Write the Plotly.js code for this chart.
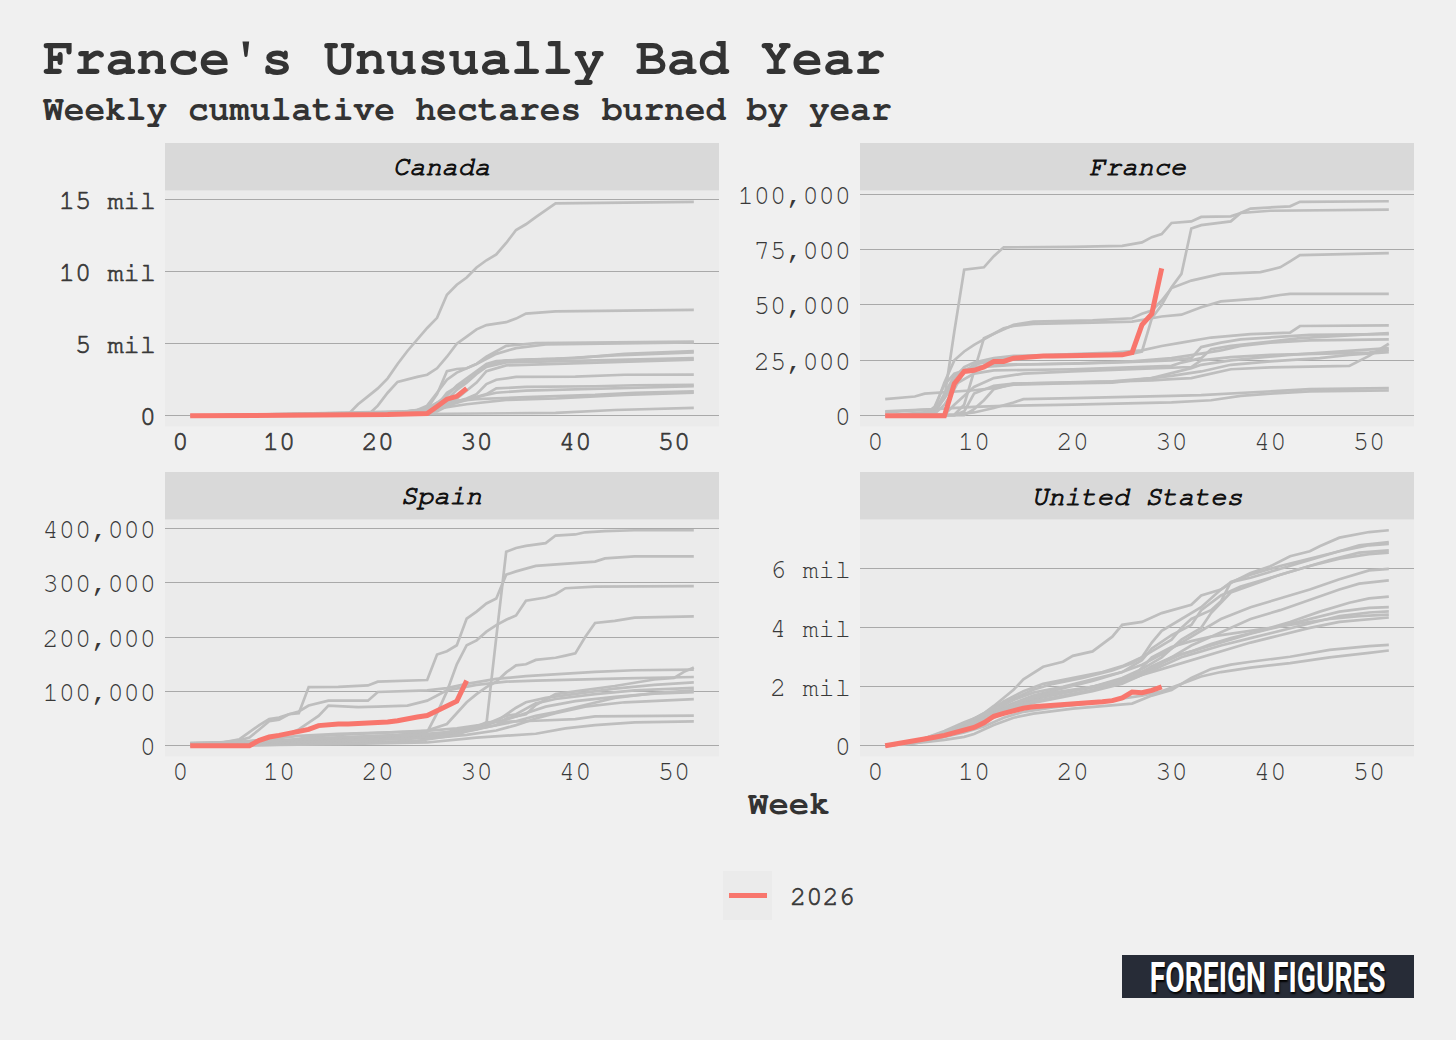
<!DOCTYPE html>
<html>
<head>
<meta charset="utf-8">
<script src="https://cdn.plot.ly/plotly-3.0.1.min.js"></script>
<style>
html, body { margin: 0; padding: 0; background: #f0f0f0; }
#chart { width: 1456px; height: 1040px; }
</style>
</head>
<body>
<div id="chart"></div>
<script>
// ---------- DATA ----------
const weekTicks = [0, 10, 20, 30, 40, 50];
const weeks2026 = [1,2,3,4,5,6,7,8,9,10,11,12,13,14,15,16,17,18,19,20,21,22,23,24,25,26,27,28,29];

// 2026 cumulative hectares (Canada & US in millions of hectares)
const canada2026 = [0,0,0.005,0.008,0.01,0.012,0.015,0.017,0.02,0.022,0.025,0.027,0.03,0.032,0.035,0.04,0.045,0.05,0.06,0.07,0.08,0.1,0.12,0.14,0.16,0.65,1.15,1.35,1.9];
const france2026 = [0,0,0,0,0,0,0,14500,20000,20500,22000,24500,24500,26000,26500,26800,27000,27000,27000,27000,27000,27000,27100,27200,27500,28500,41000,46000,66500];
const spain2026 = [0,0,0,0,0,0,0,10000,16000,19000,22000,26000,30000,37000,39500,40000,40000,40500,41000,42000,43500,46000,50000,53000,55500,64000,73000,82000,120000];
const us2026 = [0,0.05,0.1,0.15,0.22,0.29,0.35,0.43,0.52,0.62,0.78,1.0,1.1,1.2,1.27,1.32,1.34,1.36,1.38,1.43,1.45,1.47,1.49,1.53,1.62,1.82,1.8,1.88,2.0];

// Previous years: [week, cumulative value] vertices
const canadaPast = [
  [[1,0],[16,0.02],[17,0.1],[18,0.8],[19,1.35],[20,1.9],[21,2.6],[22,3.6],[23,4.5],[24,5.3],[25,6.1],[26,6.8],[27,8.4],[28,9.1],[29,9.6],[30,10.3],[31,10.8],[32,11.2],[33,12.0],[34,12.9],[35,13.3],[36,13.8],[37,14.3],[38,14.75],[45,14.8],[52,14.85]],
  [[1,0],[19,0.05],[20,0.7],[21,1.6],[22,2.35],[23,2.55],[24,2.7],[25,2.85],[26,3.3],[27,4.1],[28,5.0],[29,5.5],[30,6.0],[31,6.3],[32,6.4],[33,6.5],[34,6.75],[35,7.1],[38,7.25],[52,7.35]],
  [[1,0],[24,0.1],[25,0.5],[26,1.5],[27,3.1],[28,3.25],[29,3.3],[30,3.6],[31,4.1],[32,4.5],[33,4.85],[36,5.05],[52,5.15]],
  [[1,0],[22,0.2],[24,0.4],[25,0.7],[26,1.6],[27,2.5],[28,3.0],[30,3.6],[32,4.3],[34,4.7],[37,4.95],[52,5.1]],
  [[1,0],[22,0.1],[25,0.4],[27,1.4],[28,2.1],[29,2.6],[30,3.1],[31,3.6],[32,3.8],[35,3.9],[40,4.0],[45,4.3],[52,4.5]],
  [[1,0],[24,0.1],[26,0.7],[27,1.6],[28,2.0],[29,2.4],[30,3.0],[31,3.55],[33,3.85],[38,3.95],[44,4.2],[52,4.4]],
  [[1,0],[20,0.2],[25,0.4],[27,1.1],[28,1.8],[29,2.3],[30,2.9],[31,3.4],[33,3.7],[40,3.8],[45,3.9],[52,4.0]],
  [[1,0],[23,0.3],[26,0.6],[28,1.2],[30,2.3],[31,3.1],[33,3.5],[40,3.65],[52,3.9]],
  [[1,0],[25,0.2],[27,0.8],[29,1.2],[30,1.5],[31,2.2],[32,2.5],[34,2.7],[40,2.72],[45,2.85],[52,2.86]],
  [[1,0],[25,0.15],[27,0.7],[29,1.1],[31,1.5],[32,1.9],[35,2.0],[42,2.05],[46,2.12],[52,2.15]],
  [[1,0],[26,0.3],[28,1.0],[30,1.3],[32,1.6],[35,1.75],[45,1.95],[52,2.05]],
  [[1,0],[24,0.2],[26,0.9],[28,1.0],[30,1.15],[35,1.3],[42,1.45],[46,1.6],[52,1.7]],
  [[1,0],[20,0.1],[26,0.5],[29,0.8],[33,1.1],[38,1.2],[45,1.45],[52,1.6]],
  [[1,0],[25,0.1],[30,0.15],[38,0.2],[44,0.4],[52,0.55]]
];

const francePast = [
  [[1,0],[5,500],[6,1500],[7,8000],[8,38000],[9,65900],[11,67000],[12,72000],[13,76000],[20,76200],[25,76700],[27,78200],[28,80600],[29,82000],[30,87000],[32,87700],[33,89700],[36,90000],[37,91500],[40,92500],[52,93000]],
  [[1,0],[5,400],[6,2000],[7,8000],[8,17000],[9,22000],[10,24000],[12,26000],[14,27000],[20,27500],[26,28000],[27,29000],[28,44000],[29,50000],[30,58000],[31,64000],[32,84500],[33,86000],[36,87700],[37,91500],[38,93500],[42,94500],[43,96500],[52,96800]],
  [[1,0],[5,800],[6,3000],[7,15000],[8,25000],[9,29000],[10,32000],[12,37000],[14,41000],[16,42500],[22,43000],[26,44000],[27,46000],[28,47500],[29,52000],[30,57600],[32,61000],[34,63000],[35,64000],[39,64800],[41,67000],[42,69700],[43,72500],[52,73400]],
  [[1,0],[8,500],[9,5000],[10,20000],[11,35000],[12,37000],[13,39500],[14,40500],[16,41500],[22,42000],[26,42500],[28,44000],[29,44800],[31,45600],[33,49000],[35,51600],[39,53000],[41,54500],[42,55000],[52,55000]],
  [[1,0],[6,800],[7,5000],[8,12000],[9,20000],[10,23000],[12,25000],[14,26500],[18,27500],[24,28500],[27,29500],[29,31500],[31,33000],[34,35300],[38,36800],[42,37500],[43,40500],[52,40800]],
  [[1,0],[6,2000],[7,10000],[8,18000],[9,21000],[11,22000],[14,23000],[24,24000],[30,25000],[32,26000],[33,31000],[35,33000],[37,34500],[40,35500],[44,36500],[52,36800]],
  [[1,0],[5,500],[6,4000],[7,14000],[8,19000],[10,22000],[12,23000],[20,23500],[26,24500],[30,26000],[33,28000],[35,29500],[37,31500],[40,33000],[44,34000],[52,34500]],
  [[1,0],[9,300],[10,3000],[11,7000],[12,12000],[14,14500],[20,15000],[25,15500],[28,16000],[30,16500],[32,17000],[33,18000],[34,19000],[36,21000],[40,21800],[44,22000],[48,22500],[50,27000],[52,32500]],
  [[1,0],[7,500],[8,5000],[10,13000],[12,17000],[15,19000],[20,20000],[26,21000],[30,21500],[32,22000],[33,25000],[36,26500],[40,27500],[46,28000],[50,28500],[52,29800]],
  [[1,7500],[4,8700],[5,10000],[7,10500],[8,11000],[10,11500],[12,12500],[14,14000],[18,14500],[24,15000],[30,18000],[33,20000],[36,23000],[40,24500],[45,26000],[48,27500],[52,28700]],
  [[1,0],[8,500],[10,1500],[12,3500],[14,6000],[15,7500],[20,8000],[27,8500],[30,9000],[33,9300],[36,10000],[40,11000],[44,12000],[52,12500]],
  [[1,1500],[4,2500],[6,3000],[10,4000],[13,4500],[20,5000],[27,5500],[30,6000],[34,7000],[37,9000],[40,10000],[44,11000],[52,11400]],
  [[1,2000],[4,2500],[6,3000],[7,8000],[8,14000],[10,19000],[12,20500],[20,21000],[28,22000],[30,22500],[31,24000],[33,26000],[34,30000],[36,31500],[40,33500],[43,35000],[52,37300]],
  [[1,0],[8,200],[9,2000],[10,10000],[12,13500],[14,14500],[24,15500],[28,17000],[32,21500],[33,23000],[36,25000],[42,27500],[52,30500]]
];

const spainPast = [
  [[1,5000],[5,6000],[8,8000],[10,10000],[14,12000],[20,14000],[25,16000],[28,25000],[30,35000],[31,40000],[32,200000],[33,357000],[34,364000],[35,368000],[37,373000],[38,387000],[40,389000],[41,393000],[43,395000],[46,396700],[52,396700]],
  [[1,5000],[4,6000],[6,10000],[7,15000],[8,30000],[9,45000],[10,48000],[11,58000],[12,60000],[13,108000],[16,108500],[19,111000],[20,118000],[24,120000],[25,121000],[26,168000],[27,174000],[28,185000],[29,234000],[30,247000],[31,262000],[32,271000],[33,315000],[34,321000],[36,331000],[42,339000],[43,345000],[46,348600],[52,348600]],
  [[1,2000],[5,3000],[8,5000],[10,8000],[14,12000],[18,15000],[22,20000],[25,25000],[26,60000],[27,100000],[28,150000],[29,185000],[30,194000],[31,210000],[32,222000],[33,232000],[34,240000],[35,267000],[37,273000],[38,279000],[39,290000],[42,293000],[52,293700]],
  [[1,3000],[5,4000],[8,6000],[11,10000],[14,18000],[18,22000],[22,25000],[25,28000],[27,40000],[28,60000],[29,80000],[30,95000],[31,108000],[32,118000],[33,135000],[34,148000],[35,150000],[36,158000],[38,162000],[39,166000],[40,170000],[41,200000],[42,226000],[44,230000],[46,236000],[52,238000]],
  [[1,0],[7,1000],[10,5000],[14,10000],[18,12000],[22,14000],[26,18000],[28,22000],[30,30000],[32,38000],[33,50000],[35,58000],[36,75000],[37,85000],[38,95000],[40,100000],[44,110000],[48,122000],[50,125000],[51,136000],[52,144000]],
  [[1,3000],[4,5000],[6,12000],[7,25000],[8,38000],[9,49000],[10,52000],[11,58000],[12,63000],[13,74000],[15,83000],[19,83000],[20,99000],[25,102000],[27,106000],[29,114000],[32,123000],[35,128000],[38,132000],[42,136000],[46,139000],[52,140000]],
  [[1,2000],[5,4000],[8,10000],[10,15000],[12,30000],[14,55000],[15,74000],[18,71000],[20,72000],[23,74000],[25,83000],[27,102000],[30,112000],[33,118000],[36,120000],[40,122000],[45,124000],[52,126500]],
  [[1,1000],[6,3000],[10,8000],[14,12000],[18,15000],[22,18000],[26,22000],[28,25000],[30,30000],[32,45000],[34,70000],[35,80000],[37,88000],[40,95000],[44,105000],[48,112000],[52,116600]],
  [[1,2000],[6,4000],[10,10000],[14,14000],[20,18000],[24,20000],[27,25000],[29,32000],[31,40000],[33,55000],[34,58000],[36,78000],[38,86000],[42,95000],[46,102000],[52,106700]],
  [[1,0],[8,2000],[12,6000],[16,10000],[20,12000],[24,15000],[27,20000],[29,28000],[31,34000],[34,45000],[36,55000],[38,62000],[41,75000],[44,88000],[48,97000],[52,101800]],
  [[1,3000],[5,5000],[9,12000],[12,18000],[16,22000],[20,24000],[24,26000],[28,32000],[31,40000],[33,48000],[35,60000],[37,72000],[40,82000],[44,90000],[48,96000],[52,98700]],
  [[1,1000],[6,2000],[10,5000],[14,8000],[18,10000],[22,12000],[26,15000],[29,20000],[32,28000],[34,38000],[36,50000],[38,60000],[41,72000],[45,80000],[49,84000],[52,85800]],
  [[1,0],[8,1000],[12,3000],[16,5000],[20,7000],[24,9000],[28,20000],[30,35000],[31,43000],[36,46000],[40,49000],[42,54000],[52,55500]],
  [[1,0],[8,500],[12,2000],[16,3000],[20,4000],[25,6000],[30,15000],[33,18000],[36,22000],[39,32000],[42,38000],[46,43000],[52,45000]]
];

const usPast = [
  [[1,0],[3,0.08],[5,0.2],[7,0.45],[9,0.75],[11,1.1],[12,1.35],[14,1.9],[15,2.25],[17,2.68],[19,2.85],[20,3.05],[22,3.2],[24,3.7],[25,4.1],[27,4.2],[29,4.5],[30,4.6],[32,4.78],[33,5.1],[35,5.3],[36,5.52],[38,5.86],[40,6.09],[42,6.43],[44,6.6],[45,6.77],[47,7.06],[50,7.25],[52,7.31]],
  [[1,0],[3,0.1],[5,0.25],[7,0.5],[9,0.8],[11,1.05],[13,1.5],[15,1.85],[17,2.1],[20,2.3],[23,2.5],[25,2.7],[27,3.0],[28,3.5],[29,3.9],[31,4.3],[33,4.7],[35,5.3],[36,5.55],[38,5.7],[40,5.9],[43,6.2],[46,6.5],[49,6.8],[52,6.91]],
  [[1,0],[4,0.15],[6,0.35],[8,0.6],[10,0.9],[12,1.3],[14,1.6],[16,1.9],[18,2.1],[21,2.3],[24,2.55],[26,2.8],[28,3.2],[30,3.6],[31,4.0],[32,4.3],[34,4.6],[35,4.9],[36,5.55],[38,5.8],[41,6.1],[44,6.35],[47,6.6],[50,6.8],[52,6.85]],
  [[1,0],[4,0.12],[6,0.3],[8,0.55],[10,0.8],[12,1.15],[14,1.45],[16,1.7],[19,1.95],[22,2.2],[25,2.5],[27,2.9],[28,3.3],[30,3.75],[32,4.1],[33,4.6],[35,5.1],[37,5.4],[40,5.7],[43,6.0],[46,6.3],[49,6.55],[52,6.63]],
  [[1,0],[4,0.1],[6,0.25],[8,0.5],[10,0.75],[12,1.1],[14,1.4],[16,1.6],[19,1.8],[22,2.0],[25,2.3],[27,2.6],[29,3.0],[31,3.6],[33,4.0],[34,4.5],[36,5.2],[38,5.45],[41,5.8],[44,6.1],[47,6.35],[50,6.5],[52,6.55]],
  [[1,0],[4,0.15],[6,0.35],[8,0.6],[10,0.85],[12,1.2],[14,1.55],[16,1.8],[19,2.0],[22,2.25],[25,2.5],[27,2.75],[29,3.1],[31,3.5],[33,3.9],[35,4.3],[38,4.7],[41,5.0],[44,5.3],[47,5.65],[50,5.95],[52,6.0]],
  [[1,0],[4,0.1],[6,0.3],[8,0.5],[10,0.7],[12,1.0],[14,1.35],[16,1.6],[19,1.8],[22,2.0],[25,2.2],[28,2.6],[30,3.0],[32,3.4],[34,3.7],[36,4.0],[38,4.3],[41,4.6],[44,4.95],[47,5.3],[49,5.5],[52,5.61]],
  [[1,0],[4,0.12],[6,0.3],[8,0.5],[10,0.75],[12,1.05],[14,1.35],[17,1.65],[20,1.85],[23,2.05],[26,2.3],[28,2.7],[30,3.0],[32,3.2],[34,3.45],[36,3.65],[39,3.9],[42,4.2],[45,4.55],[48,4.85],[50,5.0],[52,5.06]],
  [[1,0],[4,0.1],[6,0.28],[8,0.5],[10,0.75],[12,1.1],[14,1.4],[16,1.6],[19,1.8],[22,2.0],[25,2.25],[27,2.5],[29,2.8],[31,3.1],[33,3.3],[35,3.5],[38,3.8],[41,4.05],[44,4.3],[47,4.55],[50,4.68],[52,4.7]],
  [[1,0],[4,0.08],[6,0.22],[8,0.4],[10,0.65],[12,0.95],[14,1.25],[16,1.45],[19,1.65],[22,1.85],[25,2.1],[27,2.4],[29,2.7],[31,3.0],[33,3.2],[35,3.4],[38,3.65],[41,3.9],[44,4.15],[47,4.4],[50,4.52],[52,4.56]],
  [[1,0],[4,0.1],[6,0.25],[8,0.45],[10,0.7],[12,1.0],[14,1.3],[16,1.5],[19,1.7],[22,1.9],[25,2.15],[27,2.4],[29,2.6],[31,2.8],[33,3.0],[35,3.2],[38,3.5],[41,3.75],[44,4.0],[47,4.2],[50,4.3],[52,4.35]],
  [[1,0],[3,0.08],[5,0.2],[7,0.4],[9,0.65],[11,0.9],[13,1.25],[15,1.55],[18,1.8],[21,1.95],[24,2.1],[26,2.3],[28,3.0],[30,3.35],[32,3.55],[34,3.7],[37,3.85],[40,4.0],[43,4.15],[46,4.3],[49,4.4],[52,4.45]],
  [[1,0],[3,0.05],[5,0.12],[7,0.2],[9,0.3],[10,0.4],[12,0.7],[14,0.95],[16,1.09],[20,1.26],[24,1.38],[26,1.43],[28,1.7],[30,1.89],[32,2.3],[34,2.6],[36,2.75],[38,2.85],[42,3.02],[46,3.25],[50,3.38],[52,3.42]],
  [[1,0],[3,0.06],[5,0.15],[7,0.3],[9,0.45],[11,0.65],[13,0.95],[15,1.15],[18,1.3],[22,1.45],[25,1.6],[27,1.7],[29,1.85],[31,2.1],[33,2.35],[35,2.5],[38,2.65],[42,2.8],[46,3.0],[50,3.15],[52,3.23]]
];

const canadaTickVals = [0, 5, 10, 15];
const canadaTickText = ['0', '5 mil', '10 mil', '15 mil'];
const franceTickVals = [0, 25000, 50000, 75000, 100000];
const franceTickText = ['0', '25,000', '50,000', '75,000', '100,000'];
const spainTickVals = [0, 100000, 200000, 300000, 400000];
const spainTickText = ['0', '100,000', '200,000', '300,000', '400,000'];
const usTickVals = [0, 2, 4, 6];
const usTickText = ['0', '2 mil', '4 mil', '6 mil'];

// ---------- STYLE / LAYOUT ----------
const W = 1456, H = 1040;
const px = v => v / W;
const py = v => 1 - v / H;
const MONO = '"Nimbus Mono PS", "Nimbus Mono L", "FreeMono", "Courier 10 Pitch", "Liberation Mono", "Courier New", monospace';
const GRAY = '#bebebe';
const RED = '#f8766d';

const traces = [];
function addPast(list, xa, ya) {
  list.forEach(s => {
    traces.push({
      x: s.map(p => p[0]), y: s.map(p => p[1]),
      xaxis: xa, yaxis: ya, type: 'scatter', mode: 'lines',
      line: { color: GRAY, width: 2.7 }, showlegend: false, hoverinfo: 'skip'
    });
  });
}
addPast(canadaPast, 'x', 'y');
addPast(francePast, 'x2', 'y2');
addPast(spainPast, 'x3', 'y3');
addPast(usPast, 'x4', 'y4');

[[canada2026, 'x', 'y'], [france2026, 'x2', 'y2'], [spain2026, 'x3', 'y3'], [us2026, 'x4', 'y4']].forEach(([vals, xa, ya]) => {
  traces.push({
    x: weeks2026, y: vals, xaxis: xa, yaxis: ya, type: 'scatter', mode: 'lines',
    name: '2026', line: { color: RED, width: 5 }, showlegend: false, hoverinfo: 'skip'
  });
});

const TEXT_COL = '#383838';
const tickFont = { family: MONO, size: 27, color: TEXT_COL };
const leftDom = [px(165), px(719)];
const rightDom = [px(860), px(1414)];
const topDom = [py(426.5), py(190.5)];
const botDom = [py(756.5), py(519.5)];

function xAxis(dom, anchor) {
  return {
    domain: dom, anchor: anchor, range: [-1.55, 54.55],
    tickvals: weekTicks, ticktext: weekTicks.map(String),
    showgrid: false, zeroline: false, showline: false, ticks: '',
    tickfont: tickFont, ticklabelstandoff: -5, fixedrange: true
  };
}
function yAxis(dom, anchor, range, vals, text) {
  return {
    domain: dom, anchor: anchor, range: range,
    tickvals: vals, ticktext: text,
    showgrid: true, gridcolor: '#a9a9a9', gridwidth: 1,
    zeroline: false, showline: false, ticks: '',
    tickfont: tickFont, ticklabelstandoff: 8, fixedrange: true
  };
}

const shapes = [];
const strips = [[165, 719, 143, 190.5], [860, 1414, 143, 190.5], [165, 719, 472, 519.5], [860, 1414, 472, 519.5]];
strips.forEach(([x0, x1, y0, y1]) => {
  shapes.push({ type: 'rect', xref: 'paper', yref: 'paper', x0: px(x0), x1: px(x1), y0: py(y1), y1: py(y0),
    fillcolor: '#d9d9d9', line: { width: 0 } });
});
// legend key
shapes.push({ type: 'rect', xref: 'paper', yref: 'paper', x0: px(723), x1: px(772), y0: py(920), y1: py(871),
  fillcolor: '#ebebeb', line: { width: 0 } });
shapes.push({ type: 'line', xref: 'paper', yref: 'paper', x0: px(729), x1: px(767), y0: py(895.5), y1: py(895.5),
  line: { color: RED, width: 5 } });
// logo box
shapes.push({ type: 'rect', xref: 'paper', yref: 'paper', x0: px(1122), x1: px(1414), y0: py(998), y1: py(955),
  fillcolor: '#272c37', line: { width: 0 } });

const stripFont = { family: MONO, size: 27, color: '#111111', style: 'italic' };
const stripNames = ['Canada', 'France', 'Spain', 'United States'];
const annotations = [
  { text: "France's Unusually Bad Year", x: px(41), y: py(58), xanchor: 'left', yanchor: 'middle',
    font: { family: MONO, size: 52, color: '#333333', weight: 'bold' } },
  { text: 'Weekly cumulative hectares burned by year', x: px(41), y: py(110), xanchor: 'left', yanchor: 'middle',
    font: { family: MONO, size: 34.5, color: '#333333', weight: 'bold' } },
  { text: stripNames[0], x: px(442), y: py(167), xanchor: 'center', yanchor: 'middle', font: stripFont },
  { text: stripNames[1], x: px(1137), y: py(167), xanchor: 'center', yanchor: 'middle', font: stripFont },
  { text: stripNames[2], x: px(442), y: py(496), xanchor: 'center', yanchor: 'middle', font: stripFont },
  { text: stripNames[3], x: px(1137), y: py(496), xanchor: 'center', yanchor: 'middle', font: stripFont },
  { text: 'Week', x: px(789), y: py(804), xanchor: 'center', yanchor: 'middle',
    font: { family: MONO, size: 34, color: '#333333', weight: 'bold' } },
  { text: '2026', x: px(788), y: py(896), xanchor: 'left', yanchor: 'middle',
    font: { family: MONO, size: 27, color: TEXT_COL } },
  { text: 'FOREIGN FIGURES', x: px(1268), y: py(977), xanchor: 'center', yanchor: 'middle',
    font: { family: 'Roboto, "DejaVu Sans", sans-serif', size: 42, color: '#ffffff', weight: 'bold',
            shadow: '1px 2px 2px #000000' } }
].map(a => Object.assign({ xref: 'paper', yref: 'paper', showarrow: false }, a));

const layout = {
  width: W, height: H, autosize: false,
  margin: { l: 0, r: 0, t: 0, b: 0, pad: 0 },
  paper_bgcolor: '#f0f0f0', plot_bgcolor: '#ebebeb',
  showlegend: false,
  xaxis: xAxis(leftDom, 'y'),
  yaxis: yAxis(topDom, 'x', [-0.745, 15.645], canadaTickVals, canadaTickText),
  xaxis2: xAxis(rightDom, 'y2'),
  yaxis2: yAxis(topDom, 'x2', [-4840, 101640], franceTickVals, franceTickText),
  xaxis3: xAxis(leftDom, 'y3'),
  yaxis3: yAxis(botDom, 'x3', [-19835, 416535], spainTickVals, spainTickText),
  xaxis4: xAxis(rightDom, 'y4'),
  yaxis4: yAxis(botDom, 'x4', [-0.3655, 7.6755], usTickVals, usTickText),
  shapes: shapes,
  annotations: annotations
};

Plotly.newPlot('chart', traces, layout, { staticPlot: true, displayModeBar: false }).then(gd => {
  // slightly heavier strokes for the regular-weight monospace labels (Courier New look)
  gd.querySelectorAll('.xtick text, .ytick text').forEach(t => {
    t.style.stroke = TEXT_COL; t.style.strokeWidth = '0.7px';
  });
  gd.querySelectorAll('.annotation-text').forEach(t => {
    const s = t.textContent;
    if (s === '2026') { t.style.stroke = TEXT_COL; t.style.strokeWidth = '0.7px'; }
    if (stripNames.indexOf(s) >= 0) { t.style.stroke = '#111111'; t.style.strokeWidth = '1px'; }
    if (s === 'FOREIGN FIGURES') {
      // compress the wordmark horizontally to fit its box (condensed look)
      const bb = t.getBBox();
      const sc = Math.min(1, 236 / bb.width);
      const cx = bb.x + bb.width / 2;
      t.setAttribute('transform', `translate(${cx} 0) scale(${sc} 1) translate(${-cx} 0)`);
    }
  });
});
</script>
</body>
</html>
